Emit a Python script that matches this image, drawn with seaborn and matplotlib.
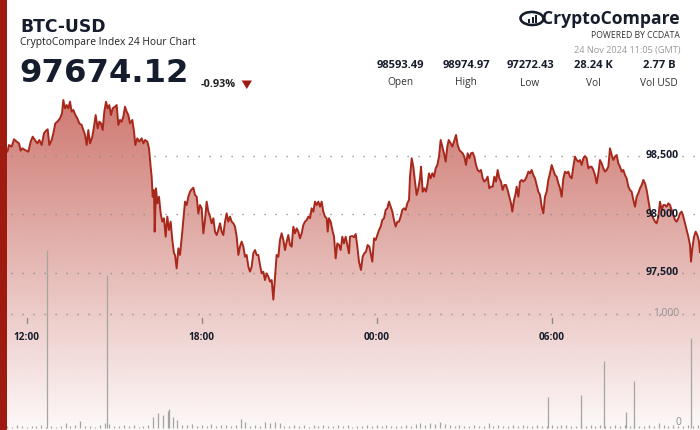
import numpy as np
import pandas as pd
import matplotlib
matplotlib.use("Agg")
import matplotlib.pyplot as plt
import matplotlib.dates as mdates
from matplotlib.patches import Rectangle, Ellipse, Polygon
import seaborn as sns

# ---------------- data ----------------
start_time = "2024-11-23 11:05"

price_minutes = [
    0, 15.1, 18.5, 24.0, 28.8, 34.3, 39.1, 42.5, 45.9, 51.4, 58.3,
    63.1, 67.2, 72.0, 76.8, 80.9, 85.7, 90.5, 94.6, 98.1, 101.5,
    106.3, 109.7, 113.8, 117.9, 123.4, 127.5, 130.3, 133.7, 137.1, 140.6,
    144.0, 147.4, 150.9, 155.0, 159.1, 163.2, 168.0, 171.4, 174.9, 178.3,
    181.7, 185.1, 189.9, 193.4, 196.8, 200.9, 204.3, 207.8, 211.2, 214.6,
    218.1, 221.5, 224.9, 228.3, 231.8, 236.6, 240.0, 243.4, 246.9, 250.3,
    253.7, 257.1, 260.6, 264.0, 267.4, 272.2, 275.7, 278.4, 282.5, 286.6,
    291.4, 294.9, 298.3, 303.1, 306.5, 309.9, 312.0, 314.1, 316.8, 318.2,
    320.9, 323.7, 327.1, 330.5, 333.9, 337.4, 340.8, 344.2, 347.7, 351.1,
    354.5, 357.9,
    360.0, 363.4, 366.9, 370.3, 373.7, 377.1, 380.6, 384.0, 387.4, 390.9,
    394.3, 397.7, 401.1, 404.6, 408.0, 411.4, 414.9, 418.3, 421.7, 425.1,
    428.6, 432.0, 435.4, 438.9, 442.3, 445.7, 449.1, 452.6, 456.0, 459.4,
    462.9, 466.3, 469.7, 473.1, 476.6, 480.0, 483.4, 486.9, 490.3, 493.7,
    497.1, 500.6, 504.0, 507.4, 510.9, 514.3, 517.7, 521.1, 524.6, 528.0,
    531.4, 534.9, 538.3, 541.7, 545.1, 548.6, 552.0, 555.4, 558.9, 562.3,
    565.7, 569.1, 572.6, 576.0, 579.4, 582.9, 586.3, 589.7, 593.1, 596.6,
    600.0, 603.4, 606.9, 610.3, 613.7, 617.1, 620.6, 624.0, 627.4, 630.9,
    634.3, 637.7, 641.1, 644.6, 648.0, 651.4, 654.9, 658.3, 661.7, 665.1,
    668.6, 672.0,
    674.1, 676.8, 680.2, 683.7, 687.1, 690.5, 693.9, 697.4, 700.8, 704.2,
    707.6, 711.1, 714.5, 717.9,
    720.0, 724.8, 728.2, 731.7, 735.1, 738.5, 742.6, 746.1, 749.5, 752.9,
    756.3, 759.8, 763.2, 765.9, 769.4, 772.8, 776.2, 779.7, 783.1, 786.5,
    789.9, 793.4, 796.8, 800.2, 803.7, 807.1, 810.5, 813.9, 817.4, 820.8,
    824.2, 827.7, 831.1, 834.5, 837.9, 841.4, 843.4, 846.9, 850.3, 853.7,
    857.1, 860.6, 864.0, 866.1, 869.5, 872.9, 876.3, 879.1, 882.5, 885.9,
    889.4, 892.8, 896.2, 899.7, 903.1, 906.5, 909.9, 913.4, 916.8, 920.2,
    923.0, 927.1, 930.5, 933.9, 938.1, 941.5, 944.9, 948.3, 951.8, 955.2,
    958.6, 962.1, 965.5, 968.9, 972.3, 975.8, 979.2, 982.6, 986.1, 989.5,
    992.9, 996.3, 999.8, 1003.2, 1006.6, 1010.1, 1013.5, 1016.9, 1020.3, 1023.8,
    1027.2, 1030.6, 1034.1, 1037.5, 1040.9, 1044.3, 1047.8, 1051.2, 1053.9, 1057.4,
    1060.8, 1062.9, 1066.3, 1069.7, 1073.1, 1076.6,
    1080.0, 1083.4, 1086.9, 1090.3, 1093.7, 1097.1, 1100.6, 1104.0, 1107.4, 1110.9,
    1114.3, 1117.7, 1121.1, 1124.6, 1128.0, 1131.4, 1134.9, 1138.3, 1141.7, 1145.1,
    1148.6, 1152.0, 1155.4, 1158.9, 1162.3, 1165.7, 1169.1, 1172.6, 1176.0, 1179.4,
    1182.9, 1186.3, 1189.7, 1193.1, 1196.6, 1200.0, 1203.4, 1206.9, 1210.3, 1213.7,
    1217.1, 1220.6, 1224.0, 1227.4, 1230.9, 1234.3, 1237.7, 1241.1, 1244.6, 1248.0,
    1251.4, 1254.9, 1258.3, 1261.7, 1265.1, 1268.6, 1272.0, 1275.4, 1278.9, 1282.3,
    1285.7, 1289.1, 1292.6, 1296.0, 1299.4, 1302.9, 1306.3, 1309.7, 1313.1, 1316.6,
    1320.0, 1323.4, 1326.9, 1330.3, 1333.7, 1337.1, 1340.6, 1344.0, 1347.4, 1350.9,
    1354.3, 1357.7, 1361.1, 1364.6, 1368.0, 1371.4, 1374.9, 1378.3, 1381.7, 1385.1,
    1388.6, 1392.0, 1395.4, 1398.9, 1402.3, 1405.7, 1409.1, 1412.6, 1416.0, 1419.4,
    1421.5, 1424.2, 1427.7, 1431.1, 1434.5, 1437.9, 1440.0,
]

price_usd = [
    98593, 98534, 98591, 98577, 98640, 98620, 98605, 98543, 98563, 98549, 98534,
    98620, 98662, 98634, 98605, 98634, 98591, 98691, 98714, 98725, 98591,
    98634, 98691, 98776, 98790, 98819, 98861, 98975, 98904, 98932, 98904,
    98961, 98876, 98890, 98847, 98819, 98776, 98762, 98719, 98677, 98591,
    98719, 98605, 98662, 98748, 98847, 98733, 98790, 98776, 98719, 98876,
    98960, 98904, 98932, 98847, 98904, 98918, 98932, 98762, 98805, 98790,
    98833, 98918, 98876, 98847, 98776, 98805, 98705, 98591, 98648, 98620,
    98648, 98605, 98634, 98620, 98563, 98406, 98321, 98150, 98207, 97852,
    98222, 98094, 98150, 98008, 97937, 97966, 97809, 97980, 97866, 97937,
    97781, 97667,
    97653, 97539, 97710, 97653, 97795, 97951, 98108, 98079, 98150, 98193,
    98213, 98227, 98165, 98150, 98008, 98079, 98051, 97838, 97951, 98108,
    98022, 97980, 97923, 97966, 97852, 97823, 97866, 97923, 97852, 97823,
    97937, 98008, 97937, 97980, 97937, 97923, 97894, 97809, 97653, 97724,
    97767, 97724, 97638, 97653, 97553, 97511, 97553, 97667, 97695, 97653,
    97653, 97567, 97496, 97510, 97439, 97496, 97468, 97425, 97439, 97272,
    97468, 97653, 97638, 97781, 97838, 97781, 97695, 97767, 97823, 97738,
    97724, 97894, 97838, 97880, 97852, 97795, 97838, 97909, 97937, 97951,
    97980, 97966, 98051, 98022, 98108, 98079, 98108, 98065, 98108, 98022,
    97980, 97966,
    97852, 97966, 97937, 97866, 97809, 97624, 97752, 97738, 97695, 97809,
    97752, 97809, 97738, 97667,
    97809, 97815, 97804, 97832, 97724, 97596, 97525, 97639, 97667, 97681,
    97738, 97724, 97653, 97596, 97795, 97781, 97823, 97866, 97895, 97951,
    97966, 98037, 98051, 98108, 98065, 98023, 97951, 97895, 97937, 97937,
    97980, 98037, 98051, 98037, 98094, 98122, 98321, 98478, 98406, 98278,
    98165, 98222, 98307, 98406, 98193, 98222, 98193, 98250, 98350, 98307,
    98350, 98321, 98392, 98421, 98492, 98634, 98577, 98520, 98449, 98577,
    98634, 98606, 98577, 98620, 98677, 98591, 98549, 98534, 98520, 98492,
    98421, 98520, 98478, 98520, 98526, 98492, 98421, 98378, 98364, 98378,
    98307, 98279, 98293, 98321, 98222, 98236, 98236, 98321, 98279, 98378,
    98307, 98279, 98207, 98250, 98250, 98207, 98150, 98094, 98023, 98122,
    98179, 98236, 98150, 98279, 98293, 98279,
    98293, 98321, 98364, 98350, 98378, 98335, 98307, 98250, 98193, 98165,
    98065, 98008, 98150, 98193, 98293, 98350, 98421, 98378, 98335, 98321,
    98264, 98222, 98150, 98307, 98364, 98350, 98364, 98321, 98307, 98406,
    98492, 98463, 98449, 98463, 98421, 98478, 98497, 98478, 98392, 98406,
    98406, 98378, 98335, 98264, 98350, 98463, 98435, 98392, 98364, 98378,
    98406, 98563, 98506, 98463, 98492, 98506, 98435, 98406, 98364, 98378,
    98335, 98307, 98236, 98207, 98193, 98122, 98065, 98150, 98179, 98222,
    98250, 98293, 98264, 98207, 98122, 98037, 97994, 97966, 97937, 97923,
    97980, 98108, 98037, 98079, 98079, 98065, 98094, 98079, 98037, 97994,
    97951, 97937, 97966, 98008, 98023, 97980, 97923, 97866, 97809, 97738,
    97596, 97710, 97809, 97852, 97823, 97767, 97674.12,
]

# volume (BTC) in 10-minute buckets
volume_btc = [
    12, 18, 10, 22, 15, 9, 20, 14, 25, 11, 17, 13, 21, 46, 18, 24, 64,
    15, 20, 12, 26, 40, 35, 18, 14, 28, 16, 22, 12, 19, 24,
    95, 130, 112, 148, 100, 72,
    30, 22, 35, 18, 26, 20, 32, 16, 24, 28, 19, 22, 79, 53, 20, 26, 18,
    50, 45, 55, 42,
    20, 15, 24, 18, 28, 12, 22, 17, 25, 14, 20, 26, 16, 23, 13, 21, 18, 27,
    15, 22, 19, 24, 14, 20, 17, 25, 21,
    35, 42, 30, 46, 38, 52, 32,
    22, 18, 26, 15, 20, 24, 16, 21, 44,
    18, 23, 14, 20, 26, 17, 22, 15, 19, 24, 16, 21,
    25, 18, 22, 28, 15, 20, 26, 17, 23, 19, 27, 16, 21, 24, 18, 22, 15, 26,
    20, 17, 23, 19, 40, 22, 18, 25, 16, 21, 27, 19, 24,
]
# single-minute volume spikes
spike_minutes = [97.3, 220.7, 348.3, 1127.9, 1195.7, 1243.0, 1288.3, 1304.7, 1422.0]
spike_btc = [1561, 1342, 167, 272, 289, 588, 140, 412, 789]

price_ticks = [97500, 98000, 98500]
price_tick_labels = ["97,500", "98,000", "98,500"]
time_ticks = ["2024-11-23 12:00", "2024-11-23 18:00", "2024-11-24 00:00", "2024-11-24 06:00"]
time_tick_labels = ["12:00", "18:00", "00:00", "06:00"]
stat_values = ["98593.49", "98974.97", "97272.43", "28.24 K", "2.77 B"]
stat_labels = ["Open", "High", "Low", "Vol", "Vol USD"]

# ---------------- build frames ----------------
t0 = pd.Timestamp(start_time)
df = pd.DataFrame({"time": t0 + pd.to_timedelta(price_minutes, unit="min"),
                   "price": price_usd})
vol_times = list(pd.date_range(t0 + pd.Timedelta(minutes=5), periods=len(volume_btc), freq="10min"))
vol_times += list(t0 + pd.to_timedelta(spike_minutes, unit="min"))
vdf = pd.DataFrame({"time": vol_times, "vol": volume_btc + spike_btc})

# ---------------- figure ----------------
sns.set_theme(style="white")
plt.rcParams["font.family"] = ["Open Sans", "DejaVu Sans"]

W, H = 700, 430
fig = plt.figure(figsize=(7, 4.3), dpi=100)
fig.patch.set_facecolor("white")

def px(x, y):
    return x / W, 1 - y / H

ax = fig.add_axes([0, 0, 1, 1])
ax.set_axis_off()
YB, YT = 96159.6, 99828.4
x0, x1 = t0, t0 + pd.Timedelta(minutes=1440)

LINE = "#a8281c"
NAVY = "#151c2b"

# gradient fill under the price line
poly = ax.fill_between(df["time"], df["price"], YB, facecolor="none", edgecolor="none")
alpha = np.linspace(0.03, 0.64, 256)
grad = np.zeros((256, 1, 4))
grad[:, 0, 0] = 178 / 255
grad[:, 0, 1] = 42 / 255
grad[:, 0, 2] = 30 / 255
grad[:, 0, 3] = alpha
img = ax.imshow(grad, extent=[mdates.date2num(x0), mdates.date2num(x1), YB, 99020],
                origin="lower", aspect="auto", zorder=1, interpolation="bilinear")
img.set_clip_path(poly.get_paths()[0], transform=ax.transData)

sns.lineplot(data=df, x="time", y="price", ax=ax, color=LINE, lw=1.4, zorder=5,
             legend=False)
ax.set_xlim(x0, x1)
ax.set_ylim(YB, YT)
ax.set_axis_off()

# dotted grid lines
for p in price_ticks:
    ax.axhline(p, color="#8a8a8a", lw=1.0, linestyle=(0, (0.9, 7.02)), zorder=3)

# volume axis
ax2 = ax.twinx()
ax2.set_position([0, 0, 1, 1])
ax2.set_ylim(-17.5, 3754)
ax2.set_xlim(x0, x1)
ax2.set_axis_off()
ax2.patch.set_visible(False)
ax2.vlines(vdf["time"], 0, vdf["vol"], color="#a3a69f", lw=0.9, zorder=4)
ax2.axhline(1000, color="#8a8a8a", lw=1.0, linestyle=(0, (0.9, 7.02)), zorder=3)
ax2.text(679 / W, 1000, "1,000", transform=ax2.get_yaxis_transform(), ha="right",
         va="center", fontsize=7.4, color="#8f8f8f", fontweight="medium", zorder=8)
ax2.text(681 / W, 0, "0", transform=ax2.get_yaxis_transform(), ha="right",
         va="bottom", fontsize=7.4, color="#8f8f8f", zorder=8)

# price tick labels
for p, lab in zip(price_ticks, price_tick_labels):
    ax.text(679 / W, p, lab, transform=ax.get_yaxis_transform(), ha="right", va="center",
            fontsize=7.6, fontweight="bold", color=NAVY, zorder=8)

# time tick labels
for t, lab in zip(time_ticks, time_tick_labels):
    tt = pd.Timestamp(t)
    ax.text(tt, 1 - 337 / H, lab, transform=ax.get_xaxis_transform(), ha="center",
            va="center", fontsize=7.2, fontweight="bold", color=NAVY, zorder=8)
    ax.plot([tt, tt], [1 - 318 / H, 1 - 323 / H], transform=ax.get_xaxis_transform(),
            color="#8a8a8a", lw=1.0, zorder=8)

# left red bar
fig.patches.append(Rectangle((0, 0), 7.3 / W, 1, transform=fig.transFigure,
                             facecolor="#a01b0f", edgecolor="none", zorder=10))

# header text
fig.text(*px(20, 27), "BTC-USD", fontsize=12.3, fontweight="bold", color=NAVY,
         ha="left", va="center", family=["DejaVu Sans"])
fig.text(*px(20, 43), "CryptoCompare Index 24 Hour Chart", fontsize=7.4, color="#222222",
         ha="left", va="center")
fig.text(*px(19, 74), "97674.12", fontsize=23.2, fontweight="bold", color=NAVY,
         ha="left", va="center", family=["DejaVu Sans"])
fig.text(*px(201, 84.5), "-0.93%", fontsize=7.8, fontweight="bold", color="#222222",
         ha="left", va="center")
fig.patches.append(Polygon([px(241.7, 80.5), px(252, 80.5), px(246.8, 89)], closed=True,
                           transform=fig.transFigure, facecolor="#a01b0f", edgecolor="none"))

# logo
fig.text(*px(680, 19), "CryptoCompare", fontsize=12.6, fontweight="bold", color=NAVY,
         ha="right", va="center")
fig.patches.append(Ellipse(px(532, 18.5), 23 / W, 13 / H, angle=-10, transform=fig.transFigure,
                           facecolor="none", edgecolor=NAVY, lw=1.9))
for bx, bh in [(528, 4), (531.5, 6), (535, 8)]:
    fig.patches.append(Rectangle(px(bx, 23), 2 / W, bh / H, transform=fig.transFigure,
                                 facecolor=NAVY, edgecolor="none"))
fig.text(*px(680, 35.5), "POWERED BY CCDATA", fontsize=6.2, color="#333333",
         fontweight="medium", ha="right", va="center")
fig.text(*px(680, 51), "24 Nov 2024 11:05 (GMT)", fontsize=6.6, color="#9a9a9a",
         ha="right", va="center")

# stats
stat_x = [400, 466, 530, 593, 659]
for sx, v, lab in zip(stat_x, stat_values, stat_labels):
    fig.text(*px(sx, 66), v, fontsize=8.0, fontweight="bold", color=NAVY,
             ha="center", va="center")
    fig.text(*px(sx, 83), lab, fontsize=7.3, color="#333333", ha="center", va="center")

fig.savefig("out.png", dpi=100, facecolor="white")
